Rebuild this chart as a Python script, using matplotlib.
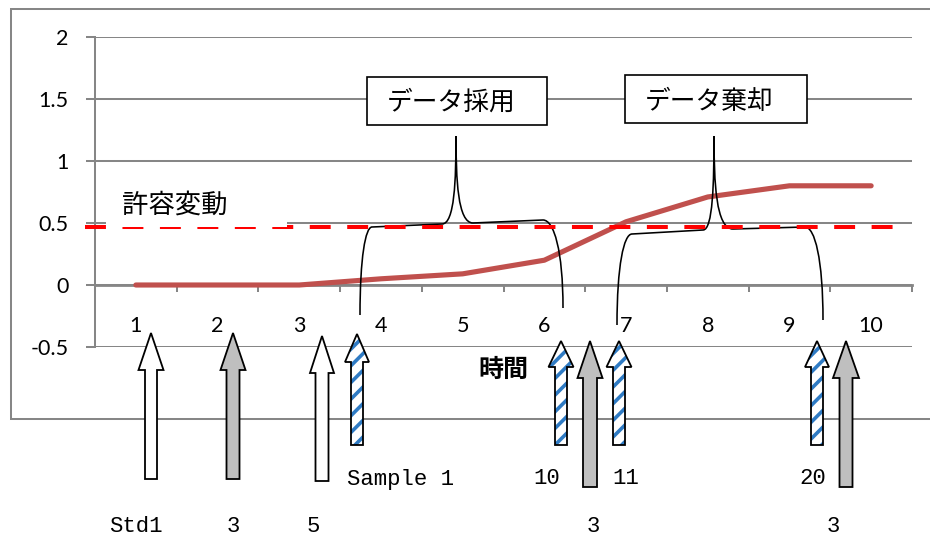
import matplotlib
matplotlib.use('Agg')
import matplotlib.pyplot as plt
import matplotlib.transforms as mtransforms
from matplotlib.patches import Rectangle, Polygon, PathPatch
from matplotlib.path import Path

# ---------------- data ----------------
categories = [1, 2, 3, 4, 5, 6, 7, 8, 9, 10]
values = [0, 0, 0, 0.05, 0.09, 0.2, 0.51, 0.71, 0.8, 0.8]
yticks = [-0.5, 0, 0.5, 1, 1.5, 2]
ytick_labels = ['-0.5', '0', '0.5', '1', '1.5', '2']
threshold = 0.47
threshold_label = '許容変動'
xlabel = '時間'
box_labels = ['データ採用', 'データ棄却']

# annotation layout (pixel coordinates of the 930x538 canvas)
arrow_x = [151, 233, 322, 357, 561, 590, 619, 817, 846]
arrow_tip = [333, 333, 336, 334, 341, 341, 341, 341, 341]
arrow_neck = [370, 370, 373, 362, 367, 378, 367, 367, 378]
arrow_bottom = [479, 479, 481, 445, 445, 487, 445, 445, 487]
arrow_head_hw = [12.5, 12.5, 12, 12, 12.5, 12.5, 12.5, 12, 13]
arrow_shaft_hw = [6, 6.5, 6.5, 6, 6, 7, 6, 6, 6.5]
arrow_style = ['white', 'gray', 'white', 'striped', 'striped', 'gray',
               'striped', 'striped', 'gray']

lower_text = ['Std1', '3', '5', 'Sample 1', '10', '11', '20', '3', '3']
lower_x = [136, 233, 313, 400, 547, 626, 813, 593, 833]
lower_y = [527, 527, 527, 479, 479, 479, 479, 527, 527]

braces = [
    dict(bl=(360, 315), cl=(372, 227), ml=(442, 224), pk=(456, 136),
         mr=(473, 223), cr=(543, 220), br=(563, 308)),
    dict(bl=(617, 325), cl=(632, 234), ml=(703, 230), pk=(714, 136),
         mr=(733, 229), cr=(805, 227), br=(823, 320)),
]
boxes = [(367, 77, 180, 48), (625, 75, 182, 48)]
box_text_pos = [(451, 103), (709, 102)]

# ---------------- styles ----------------
GRID = '#868686'
plt.rcParams['hatch.linewidth'] = 2.6
CJK = ['Noto Sans CJK JP', 'DejaVu Sans']

W, H = 930, 538
fig = plt.figure(figsize=(W / 100, H / 100), dpi=100)

# main chart axes
ax = fig.add_axes([95 / W, (H - 347) / H, (912 - 95) / W, (347 - 37) / H], zorder=1)
ax.set_facecolor('none')
ax.plot(categories, values, color='#C0504D', lw=3.7, solid_capstyle='round',
        solid_joinstyle='round', zorder=3, clip_on=False)
ax.set_xlim(0.5, 10.5)
ax.set_ylim(-0.5, 2)
ax.set_yticks(yticks)
ax.set_yticklabels(ytick_labels, fontfamily='Lato', fontsize=15.5)
ax.yaxis.grid(True, color=GRID, lw=1.45, zorder=0)
ax.set_axisbelow(True)
ax.tick_params(axis='y', direction='out', length=6.5, width=1.45, color=GRID, pad=12.5)
for s in ['top', 'right']:
    ax.spines[s].set_visible(False)
ax.spines['left'].set_color(GRID)
ax.spines['left'].set_linewidth(1.45)
ax.spines['bottom'].set_position(('data', 0))
ax.spines['bottom'].set_color(GRID)
ax.spines['bottom'].set_linewidth(2.0)
ax.set_xticks(categories)
ax.set_xticklabels([str(c) for c in categories], fontfamily='Lato', fontsize=15.5)
ax.set_xticks([c + 0.5 for c in [0] + categories], minor=True)
ax.tick_params(axis='x', which='major', length=0, pad=22)
ax.tick_params(axis='x', which='minor', direction='out', length=5, width=1.45, color=GRID)
ax.set_xlabel(xlabel, fontfamily=CJK, fontsize=18, fontweight='bold')
ax.xaxis.set_label_coords(0.5, (H - 370 - (H - 347)) / 310)
ax.xaxis.label.set_va('center')

# overlay axes in pixel coordinates for annotation shapes
ov = fig.add_axes([0, 0, 1, 1], zorder=2)
ov.set_xlim(0, W)
ov.set_ylim(H, 0)
ov.axis('off')
ov.patch.set_alpha(0)

# chart-area border
ov.plot([W, 11, 11, W], [9, 9, 419, 419], color=GRID, lw=1.45, zorder=1,
        solid_joinstyle='miter')

# braces
def brace_path(b):
    bl, cl, ml, pk, mr, cr, br = (b[k] for k in ['bl', 'cl', 'ml', 'pk', 'mr', 'cr', 'br'])
    hl = bl[1] - cl[1]
    hr = br[1] - cr[1]
    verts = [bl,
             (bl[0], cl[1] + 0.35 * hl), (bl[0] + 0.45 * (cl[0] - bl[0]), cl[1]), cl,
             ml,
             (ml[0] + 0.9 * (pk[0] - ml[0]), ml[1]), (pk[0], ml[1] - 0.5 * (ml[1] - pk[1])), pk,
             (pk[0], mr[1] - 0.5 * (mr[1] - pk[1])), (mr[0] - 0.9 * (mr[0] - pk[0]), mr[1]), mr,
             cr,
             (br[0] - 0.45 * (br[0] - cr[0]), cr[1]), (br[0], cr[1] + 0.35 * hr), br]
    codes = [Path.MOVETO] + [Path.CURVE4] * 3 + [Path.LINETO] + [Path.CURVE4] * 6 + \
            [Path.LINETO] + [Path.CURVE4] * 3
    return Path(verts, codes)

for b in braces:
    ov.add_patch(PathPatch(brace_path(b), facecolor='none', edgecolor='black',
                           lw=1.15, zorder=3))

# threshold dashed line (y from chart data)
blend = mtransforms.blended_transform_factory(ov.transData, ax.transData)
ov.plot([85, 908], [threshold, threshold], transform=blend, color='#FF0000', lw=2.9,
        linestyle=(0, (5.2, 4.1)), dash_capstyle='butt', zorder=4, clip_on=False)

# white label box covering the upper half of the threshold line
ov.add_patch(Rectangle((106, 175), 287 - 106, 51.8, facecolor='white', edgecolor='none', zorder=5))
ov.text(175, 205, threshold_label, fontfamily=CJK, fontsize=19, ha='center', va='center', zorder=6)

# text boxes
for (x, y, w, h), (tx, ty), lab in zip(boxes, box_text_pos, box_labels):
    ov.add_patch(Rectangle((x, y), w, h, facecolor='white', edgecolor='black', lw=1.2, zorder=5))
    ov.text(tx, ty, lab, fontfamily=CJK, fontsize=18.5, ha='center', va='center', zorder=6)

# block arrows
def arrow_poly(cx, tip, neck, bottom, hhw, shw):
    return [(cx, tip), (cx + hhw, neck), (cx + shw, neck), (cx + shw, bottom),
            (cx - shw, bottom), (cx - shw, neck), (cx - hhw, neck)]

for cx, tip, neck, bot, hhw, shw, st in zip(arrow_x, arrow_tip, arrow_neck, arrow_bottom,
                                            arrow_head_hw, arrow_shaft_hw, arrow_style):
    pts = arrow_poly(cx, tip, neck, bot, hhw, shw)
    if st == 'striped':
        ov.add_patch(Polygon(pts, closed=True, facecolor='white', edgecolor='#2F7BC4',
                             hatch='//', lw=0, zorder=7))
        ov.add_patch(Polygon(pts, closed=True, facecolor='none', edgecolor='black',
                             lw=1.3, joinstyle='miter', zorder=7.5))
    else:
        fc = 'white' if st == 'white' else '#BFBFBF'
        ov.add_patch(Polygon(pts, closed=True, facecolor=fc, edgecolor='black',
                             lw=1.3, joinstyle='miter', zorder=7))

for t, x, y in zip(lower_text, lower_x, lower_y):
    ov.text(x, y, t, fontfamily='Liberation Mono', fontsize=16, ha='center', va='center',
            color='black', zorder=8)

fig.savefig('out.png', dpi=100)
